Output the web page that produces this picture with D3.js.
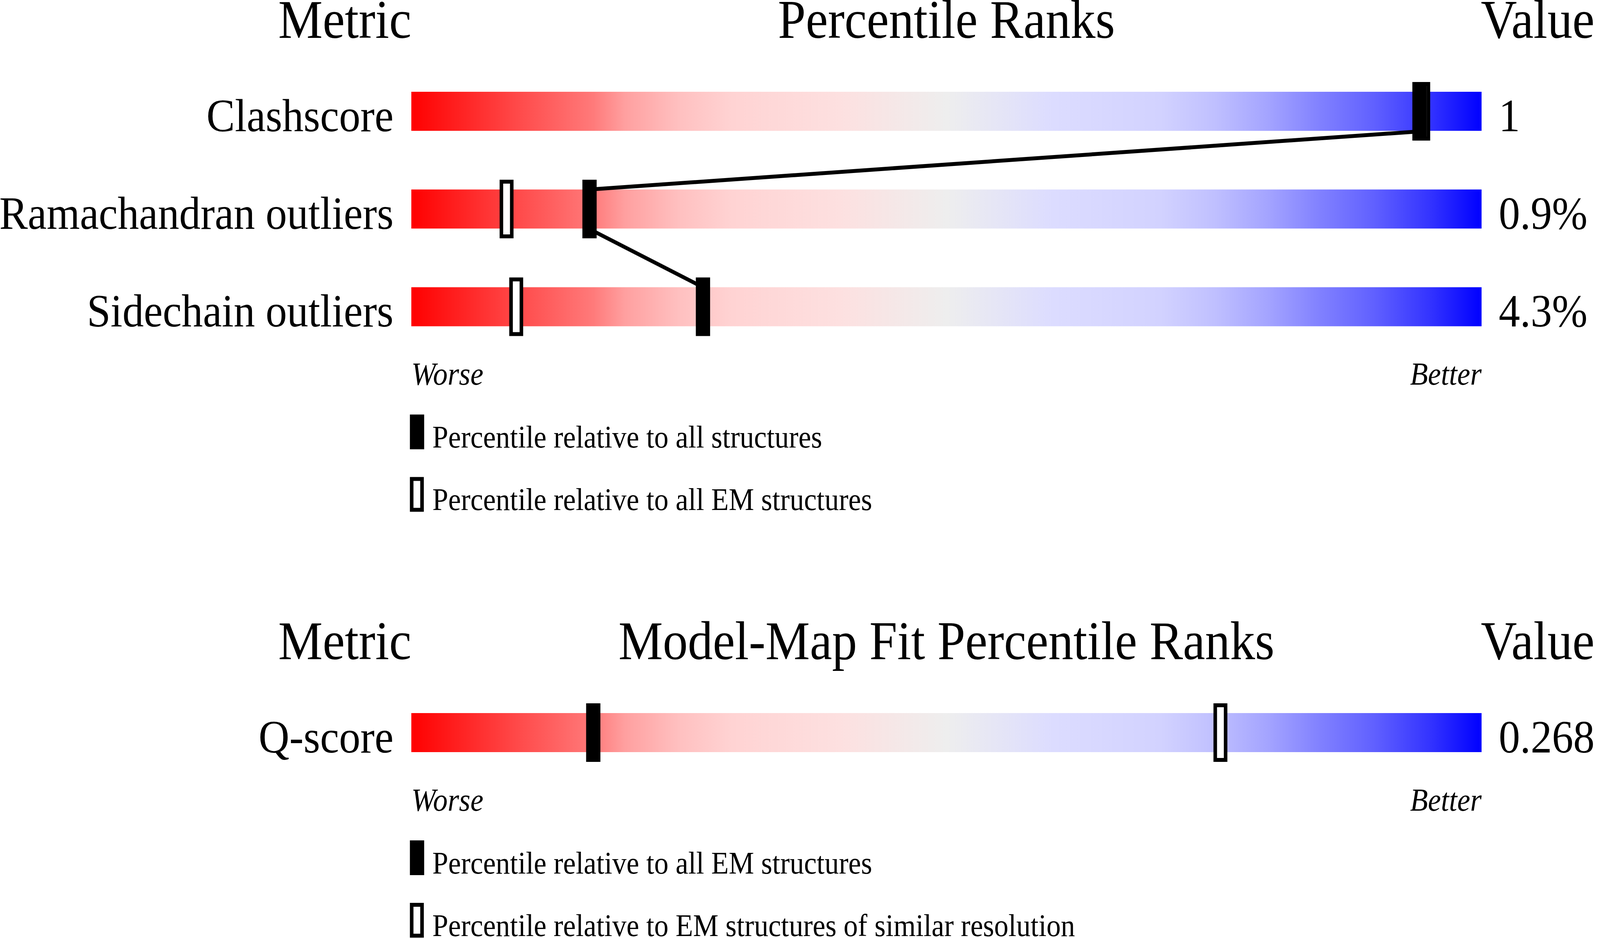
<!DOCTYPE html>
<html>
<head>
<meta charset="utf-8">
<script src="https://cdn.jsdelivr.net/npm/d3@7"></script>
<style>
  html, body { margin: 0; padding: 0; background: #ffffff; width: 100%; height: 100%; overflow: hidden; }
  #chart { width: 100vw; height: 100vh; }
  svg { display: block; width: 100%; height: 100%; }
  text { font-family: "Liberation Serif", "Times New Roman", serif; fill: #000; }
</style>
</head>
<body>
<div id="chart"></div>
<script>
// ---------- data ----------
const geomMetrics = ["Clashscore", "Ramachandran outliers", "Sidechain outliers"];
const geomValues = ["1", "0.9%", "4.3%"];
const geomPctAll = [94.2, 16.65, 27.25];      // filled marker: relative to all structures
const geomPctEM = [94.55, 8.9, 9.8];          // open marker: relative to all EM structures

const fitMetrics = ["Q-score"];
const fitValues = ["0.268"];
const fitPctAllEM = [17.0];                   // filled marker: relative to all EM structures
const fitPctSimilar = [75.6];                 // open marker: EM structures of similar resolution

const geomTitles = ["Metric", "Percentile Ranks", "Value"];
const fitTitles = ["Metric", "Model-Map Fit Percentile Ranks", "Value"];
const axisEnds = ["Worse", "Better"];
const geomLegend = ["Percentile relative to all structures", "Percentile relative to all EM structures"];
const fitLegend = ["Percentile relative to all EM structures", "Percentile relative to EM structures of similar resolution"];

const gradientStops = [
  [0, "#ff0000"], [0.10, "#ff4a4a"], [0.17, "#ff7a7a"], [0.20, "#ffa0a0"], [0.25, "#ffc0c0"],
  [0.30, "#ffd3d3"], [0.40, "#fde0e0"], [0.50, "#eeeeee"], [0.60, "#dcdcff"], [0.70, "#d2d2ff"],
  [0.75, "#c0c0ff"], [0.80, "#a4a4ff"], [0.85, "#8080ff"], [0.90, "#6060ff"], [0.95, "#3535ff"],
  [1.0, "#0000ff"]
];

// ---------- layout ----------
const W = 4485, H = 2402;
const barLeft = 1153, barRight = 4153, barH = 100;
const markW = 40, markH = 150, openStroke = 10;
const labelSize = 119.5, headSize = 140, smallSize = 80, endSize = 82;

const svg = d3.select("#chart").append("svg")
  .attr("viewBox", `0 0 ${W} ${H}`)
  .attr("preserveAspectRatio", "none");
svg.append("rect").attr("width", W).attr("height", H).attr("fill", "#fff");

const grad = svg.append("defs").append("linearGradient")
  .attr("id", "pgrad").attr("x1", "0%").attr("x2", "100%").attr("y1", "0%").attr("y2", "0%");
grad.selectAll("stop").data(gradientStops).join("stop")
  .attr("offset", d => d[0]).attr("stop-color", d => d[1]);

const x = d3.scaleLinear().domain([0, 100]).range([barLeft, barRight]);

function panel(g, metrics, values, pctFilled, pctOpen, titles, legend, yScale) {
  const firstTop = yScale(metrics[0]);
  const lastBottom = yScale(metrics[metrics.length - 1]) + barH;
  const headY = firstTop - 138;

  // headings
  g.append("text").attr("x", barLeft).attr("y", headY)
    .attr("text-anchor", "end").attr("font-size", headSize).text(titles[0]);
  g.append("text").attr("x", (barLeft + barRight) / 2).attr("y", headY)
    .attr("text-anchor", "middle").attr("font-size", headSize).text(titles[1]);
  g.append("text").attr("x", barRight - 2).attr("y", headY)
    .attr("text-anchor", "start").attr("font-size", headSize).text(titles[2]);

  // bars
  g.selectAll("rect.bar").data(metrics).join("rect").attr("class", "bar")
    .attr("x", barLeft).attr("width", barRight - barLeft)
    .attr("y", d => yScale(d)).attr("height", barH)
    .attr("fill", "url(#pgrad)");

  // labels & values
  g.selectAll("text.lab").data(metrics).join("text").attr("class", "lab")
    .attr("x", 1103).attr("y", d => yScale(d) + barH + 1)
    .attr("text-anchor", "end").attr("font-size", labelSize).text(d => d);
  g.selectAll("text.val").data(values).join("text").attr("class", "val")
    .attr("x", 4201).attr("y", (d, i) => yScale(metrics[i]) + barH + 1)
    .attr("text-anchor", "start").attr("font-size", labelSize).text(d => d);

  // connecting lines between filled markers
  const links = d3.pairs(metrics.map((m, i) => ({ m, p: pctFilled[i] })));
  g.selectAll("line.link").data(links).join("line").attr("class", "link")
    .attr("x1", d => x(d[0].p)).attr("y1", d => yScale(d[0].m) + barH + 1.5)
    .attr("x2", d => x(d[1].p)).attr("y2", d => yScale(d[1].m))
    .attr("stroke", "#000").attr("stroke-width", 10);

  // open markers
  g.selectAll("rect.open").data(metrics).join("rect").attr("class", "open")
    .attr("x", (d, i) => x(pctOpen[i]) - (markW - 1 - openStroke) / 2)
    .attr("width", markW - 1 - openStroke)
    .attr("y", d => yScale(d) + barH / 2 - markH / 2 + openStroke / 2)
    .attr("height", markH - openStroke)
    .attr("fill", "#fff").attr("stroke", "#000").attr("stroke-width", openStroke);

  // filled markers
  g.selectAll("rect.filled").data(metrics).join("rect").attr("class", "filled")
    .attr("x", (d, i) => x(pctFilled[i]) - markW / 2).attr("width", markW)
    .attr("y", d => yScale(d) + barH / 2 - markH / 2).attr("height", markH)
    .attr("fill", "#000");

  // worse / better
  g.append("text").attr("x", x(0)).attr("y", lastBottom + 150)
    .attr("font-size", endSize).attr("font-style", "italic").attr("text-anchor", "start").text(axisEnds[0]);
  g.append("text").attr("x", x(100)).attr("y", lastBottom + 150)
    .attr("font-size", endSize).attr("font-style", "italic").attr("text-anchor", "end").text(axisEnds[1]);

  // legend
  const lg = g.append("g");
  lg.append("rect").attr("x", 1149).attr("y", lastBottom + 226).attr("width", 40).attr("height", 89)
    .attr("fill", "#000");
  lg.append("text").attr("x", 1212).attr("y", lastBottom + 311).attr("font-size", smallSize).text(legend[0]);
  lg.append("rect").attr("x", 1149 + openStroke / 2).attr("y", lastBottom + 386 + openStroke / 2)
    .attr("width", 39 - openStroke).attr("height", 89 - openStroke)
    .attr("fill", "#fff").attr("stroke", "#000").attr("stroke-width", openStroke);
  lg.append("text").attr("x", 1212).attr("y", lastBottom + 471).attr("font-size", smallSize).text(legend[1]);
}

const yTop = d3.scalePoint().domain(geomMetrics).range([235, 735.5]);
const yBottom = d3.scalePoint().domain(fitMetrics).range([1826, 1826]);

panel(svg.append("g"), geomMetrics, geomValues, geomPctAll, geomPctEM, geomTitles, geomLegend, yTop);
panel(svg.append("g"), fitMetrics, fitValues, fitPctAllEM, fitPctSimilar, fitTitles, fitLegend, yBottom);
</script>
</body>
</html>
